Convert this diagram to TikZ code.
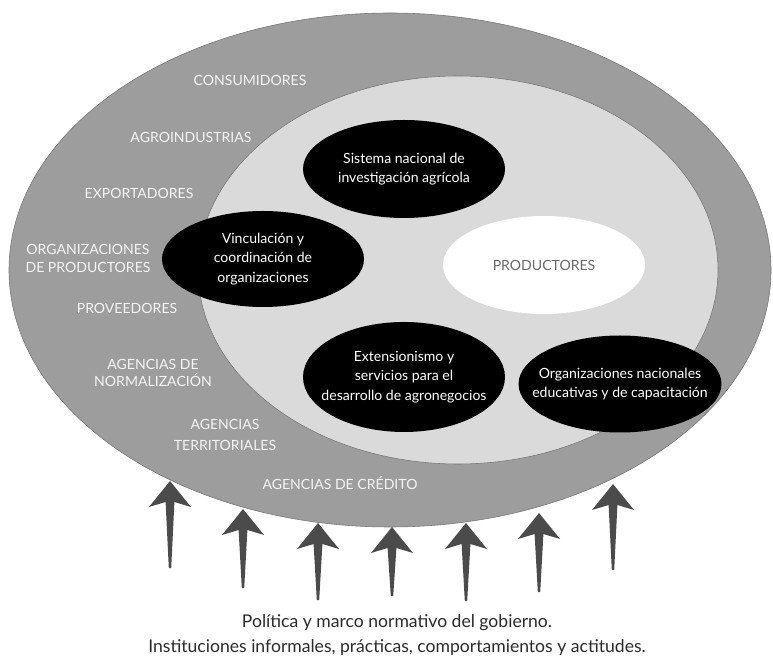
\documentclass[tikz,border=0pt]{standalone}
\usepackage{fontspec}
\setmainfont{Lato}
\usetikzlibrary{shapes.geometric}
\definecolor{ringGray}{HTML}{9D9D9D}
\definecolor{coreGray}{HTML}{DADADA}
\definecolor{pushGray}{HTML}{4B4B4B}
\definecolor{ringText}{HTML}{F4F4F4}
\definecolor{textInk}{HTML}{2B2B2B}

\begin{document}
\begin{tikzpicture}[
  font=\fontsize{10}{12}\selectfont,
  ring/.style={text=ringText, align=center, inner sep=1pt,
               font=\fontsize{10}{12.5}\selectfont},
  % the negative xsep keeps the long lines from widening the ellipse
  actor/.style={ellipse, fill=black, text=white, align=center,
                inner xsep=-4mm, inner ysep=0pt,
                minimum width=5.05cm, minimum height=2.45cm,
                font=\fontsize{10}{13.8}\selectfont},
  edge/.style={draw=ringGray!75!black, line width=0.4pt},
  base/.style={text=textInk, inner sep=1pt, font=\fontsize{12.5}{15}\selectfont},
]
\useasboundingbox (0,0) rectangle (19.325,16.40);

% ============================== the two rings ================================
\fill[ringGray, edge] (9.75,9.65) ellipse [x radius=9.525, y radius=6.425];
\fill[coreGray, edge] (11.45,9.65) ellipse [x radius=6.50, y radius=4.85];

% --- who stands round the producers, top to bottom along the outer ring ---
\node[ring] (consum)  at (6.250,14.400) {CONSUMIDORES};
\node[ring] (agroind) at (4.775,12.975) {AGROINDUSTRIAS};
\node[ring] (export)  at (3.475,11.575) {EXPORTADORES};
\node[ring] (orgprod) at (2.200, 9.940) {ORGANIZACIONES\\DE PRODUCTORES};
\node[ring] (provee)  at (3.175, 8.700) {PROVEEDORES};
\node[ring] (normal)  at (3.825, 7.075) {AGENCIAS DE\\NORMALIZACIÓN};
\node[ring] (territ)  at (5.625, 5.525) {AGENCIAS\\[2pt]TERRITORIALES};
\node[ring] (credito) at (8.500, 4.325) {AGENCIAS DE CRÉDITO};

% ============================== inner actors =================================
\node[actor] (sistema) at (10.100,12.175) {Sistema nacional de\\investigación agrícola};
\node[actor, minimum height=2.40cm] (vincula) at (6.575,9.925)
  {Vinculación y\\coordinación de\\organizaciones};
\node[actor, fill=white, text=black!58] (product) at (13.600,9.775) {PRODUCTORES};
\node[actor, minimum height=2.75cm] (extens) at (10.100,6.975)
  {Extensionismo y\\servicios para el\\desarrollo de agronegocios};
\node[actor, minimum width=5.025cm, minimum height=2.425cm] (educa) at (15.500,6.800)
  {Organizaciones nacionales\\educativas y de capacitación};

% ============================== pushes from below ============================
% Each arrow: tip on the outer ring, swept-back head, shaft thinning downward.
\foreach \i/\x/\t/\b in {1/4.250/4.375/2.200, 2/6.075/3.675/1.700,
                         3/7.950/3.325/1.400, 4/9.800/3.225/1.500,
                         5/11.650/3.325/1.375, 6/13.475/3.575/1.600,
                         7/15.325/4.300/2.150}
{
  \coordinate (tip\i) at (\x,\t);
  \fill[pushGray] (tip\i) -- ++(0.525,-0.65) -- ++(-0.415,0.125)
    -- ({\x+0.03},\b) -- ({\x-0.03},\b) -- ({\x-0.11},{\t-0.525})
    -- ({\x-0.525},{\t-0.65}) -- cycle;
}

\node[base] (policy) at (9.925,0.840) {Política y marco normativo del gobierno.};
\node[base] (norms)  at (9.925,0.215)
  {Instituciones informales, prácticas, comportamientos y actitudes.};
\end{tikzpicture}
\end{document}
